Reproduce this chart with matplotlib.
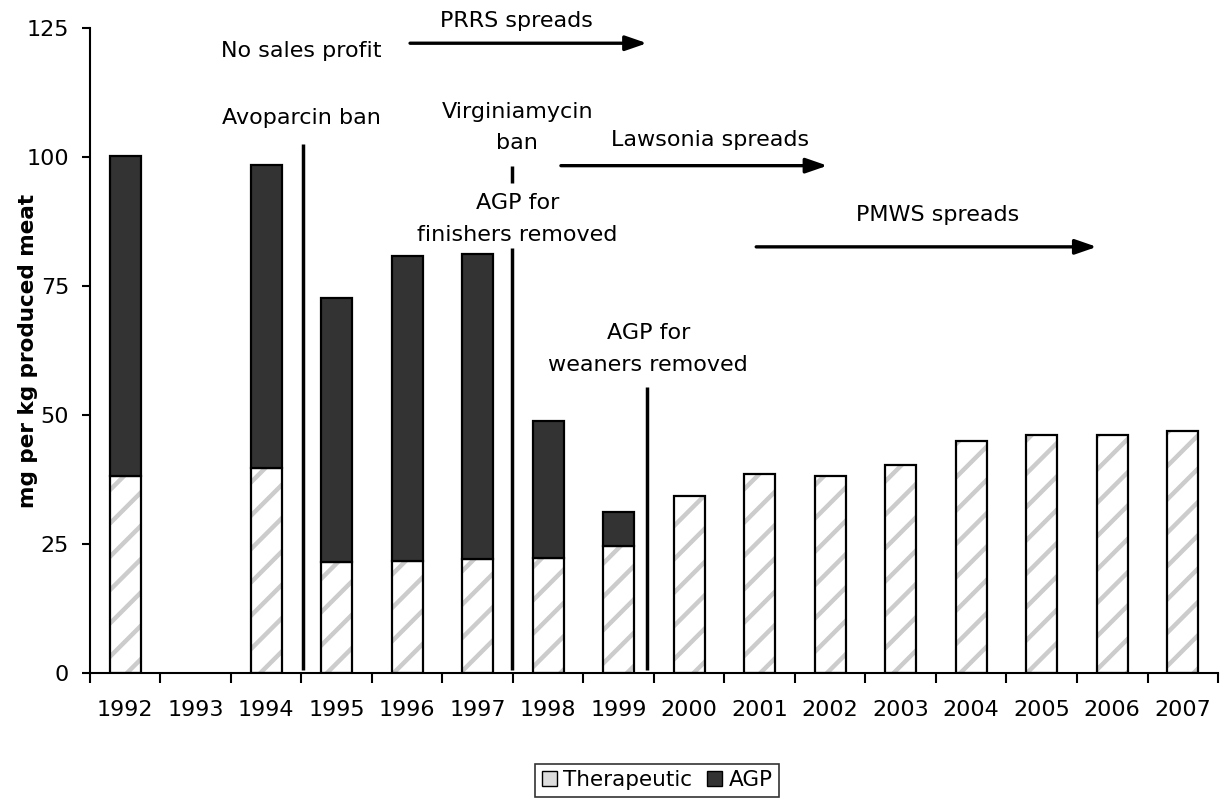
import numpy as np
import matplotlib
matplotlib.use("Agg")
from matplotlib import pyplot as plt
from matplotlib.patches import Patch

plt.rcParams['font.family'] = ['DejaVu Sans']
plt.rcParams['hatch.linewidth'] = 3.2
plt.rcParams['hatch.color'] = '#cccccc'

# data (mg per kg produced meat), 1993 has no data
years = ['1992', '1993', '1994', '1995', '1996', '1997', '1998', '1999',
         '2000', '2001', '2002', '2003', '2004', '2005', '2006', '2007']
therapeutic = [38.2, 0, 39.8, 21.4, 21.7, 22.0, 22.2, 24.5,
               34.3, 38.6, 38.2, 40.2, 45.0, 46.1, 46.1, 46.8]
agp = [62.1, 0, 58.7, 51.3, 59.1, 59.3, 26.6, 6.6,
       0, 0, 0, 0, 0, 0, 0, 0]

# event markers: (x in category units, y bottom, y top)
event_lines = [(2.52, 0.5, 102.5), (5.49, 95.0, 98.3),
               (5.49, 0.5, 82.4), (7.40, 0.5, 55.4)]
# spreading periods: (x start, x end, y, label, label x, label y)
arrows = [(4.04, 7.40, 122.1, 'PRRS spreads', 5.55, 126.5),
          (6.18, 9.96, 98.35, 'Lawsonia spreads', 8.29, 103.3),
          (8.95, 13.78, 82.6, 'PMWS spreads', 11.53, 88.8)]
# annotation lines: (x, y, text)
event_text = [(2.50, 120.5, 'No sales profit'),
              (2.50, 107.6, 'Avoparcin ban'),
              (5.56, 108.8, 'Virginiamycin'),
              (5.56, 102.7, 'ban'),
              (5.56, 91.1, 'AGP for'),
              (5.56, 84.9, 'finishers removed'),
              (7.42, 65.9, 'AGP for'),
              (7.42, 59.7, 'weaners removed')]

x = np.arange(len(years))
ther = np.array(therapeutic)
ag = np.array(agp)
has = (ther + ag) > 0
ag_has = ag > 0

fig = plt.figure(figsize=(12.24, 8.01), dpi=100)
ax = fig.add_axes([0.0735, 0.1602, 0.9216, 0.8045])

w = 0.44
# therapeutic: light grey diagonal hatch, black outline drawn on top
ax.bar(x[has], ther[has], w, color='white', edgecolor='#cccccc',
       hatch='/', linewidth=0, zorder=2)
ax.bar(x[has], ther[has], w, fill=False, edgecolor='black', linewidth=1.6, zorder=3)
ax.bar(x[ag_has], ag[ag_has], w, bottom=ther[ag_has], color='#333333',
       edgecolor='black', linewidth=1.6, zorder=3)

for xe, y0, y1 in event_lines:
    ax.plot([xe, xe], [y0, y1], color='black', lw=2.5, zorder=4,
            solid_capstyle='butt')

for x0, x1, ya, lab, lx, ly in arrows:
    ax.annotate('', xy=(x1, ya), xytext=(x0, ya),
                arrowprops=dict(arrowstyle='-|>,head_length=1.3,head_width=0.45',
                                color='black', lw=2.4, shrinkA=0, shrinkB=0),
                annotation_clip=False)
    ax.text(lx, ly, lab, ha='center', va='center', fontsize=16, clip_on=False)

for xt, yt, lab in event_text:
    ax.text(xt, yt, lab, ha='center', va='center', fontsize=16, clip_on=False)

ax.set_xlim(-0.5, 15.5)
ax.set_ylim(0, 125)
ax.set_yticks([0, 25, 50, 75, 100, 125])
ax.set_xticks(np.arange(-0.5, 16, 1))
ax.set_xticklabels([])
ax.set_xticks(x, minor=True)
ax.set_xticklabels(years, minor=True)
ax.tick_params(axis='x', which='major', direction='out', length=7, width=1.5)
ax.tick_params(axis='x', which='minor', length=0, pad=20, labelsize=16)
ax.tick_params(axis='y', direction='out', length=6, width=1.5, labelsize=16, pad=9)
for s in ['top', 'right']:
    ax.spines[s].set_visible(False)
for s in ['left', 'bottom']:
    ax.spines[s].set_linewidth(1.5)

ax.set_ylabel('mg per kg produced meat', fontsize=15.5, fontweight='bold')
ax.yaxis.set_label_coords(-0.046, 0.5)

handles = [Patch(facecolor='#dddddd', edgecolor='black', label='Therapeutic'),
           Patch(facecolor='#333333', edgecolor='black', label='AGP')]
leg = fig.legend(handles=handles, loc='center', bbox_to_anchor=(0.537, 0.026),
                 ncol=2, fontsize=15.5, frameon=True, fancybox=False,
                 handlelength=0.7, handleheight=0.7, handletextpad=0.3,
                 columnspacing=0.7, borderpad=0.3, borderaxespad=0)
leg.get_frame().set_edgecolor('black')
leg.get_frame().set_linewidth(1.2)

fig.savefig('out.png', dpi=100)
